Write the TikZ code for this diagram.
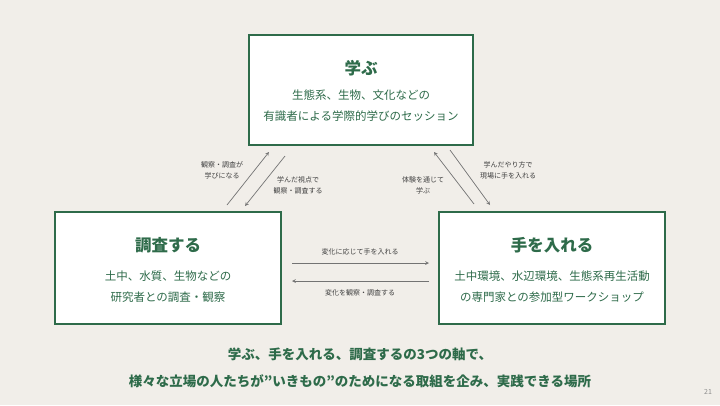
\documentclass[tikz,border=0pt]{standalone}
\usepackage{fontspec}
\setmainfont{Noto Sans CJK JP}
\begin{document}
\begin{tikzpicture}[x=1pt,y=-1pt,
  box/.style={draw=grn,line width=1.6pt,fill=white},
  ttl/.style={text=grn,font=\fontsize{16.5}{18}\selectfont\bfseries},
  body/.style={text=grn,font=\fontsize{11.5}{21}\selectfont,align=center},
  lbl/.style={text=black!75,font=\fontsize{7}{11}\selectfont,align=center},
  arr/.style={draw=black!55,line width=0.7pt,-stealth}]
\definecolor{grn}{HTML}{2E6B4A}
\fill[fill={rgb,255:red,241;green,238;blue,233}] (0,0) rectangle (720,405);
\useasboundingbox (0,0) rectangle (720,405);
\draw[box] (249,35) rectangle (473,145);
\draw[box] (55,212) rectangle (281,324);
\draw[box] (439,212) rectangle (665,324);
\node[ttl] (t1) at (361,68) {学ぶ};
\node[body] (b1) at (361,106) {生態系、生物、文化などの\\有識者による学際的学びのセッション};
\node[ttl] (t2) at (168,245) {調査する};
\node[body] (b2) at (168,287) {土中、水質、生物などの\\研究者との調査・観察};
\node[ttl] (t3) at (552,245) {手を入れる};
\node[body] (b3) at (552,287) {土中環境、水辺環境、生態系再生活動\\の専門家との参加型ワークショップ};
\coordinate (a1) at (227,205); \coordinate (a2) at (269,152);
\coordinate (a3) at (285,156); \coordinate (a4) at (245,206);
\coordinate (a5) at (474,204); \coordinate (a6) at (434,152);
\coordinate (a7) at (450,150); \coordinate (a8) at (490,205);
\coordinate (h1) at (292,263); \coordinate (h2) at (429,263);
\coordinate (h3) at (429,281); \coordinate (h4) at (292,281);
\draw[arr] (a1) -- (a2); \draw[arr] (a3) -- (a4);
\draw[arr] (a5) -- (a6); \draw[arr] (a7) -- (a8);
\draw[arr] (h1) -- (h2); \draw[arr] (h3) -- (h4);
\node[lbl] (l1) at (222,170) {観察・調査が\\学びになる};
\node[lbl] (l2) at (298,185) {学んだ視点で\\観察・調査する};
\node[lbl] (l3) at (423,185) {体験を通じて\\学ぶ};
\node[lbl] (l4) at (508,170) {学んだやり方で\\現場に手を入れる};
\node[lbl] (l5) at (360,252) {変化に応じて手を入れる};
\node[lbl] (l6) at (360,293) {変化を観察・調査する};
\node[text=grn,font=\fontsize{13.5}{27}\selectfont\bfseries,align=center] (m) at (360,368) {学ぶ、手を入れる、調査するの3つの軸で、\\様々な立場の人たちが”いきもの”のためになる取組を企み、実践できる場所};
\node[text=black!45,font=\fontsize{7}{8}\selectfont] (pg) at (708,392) {21};
\end{tikzpicture}
\end{document}
